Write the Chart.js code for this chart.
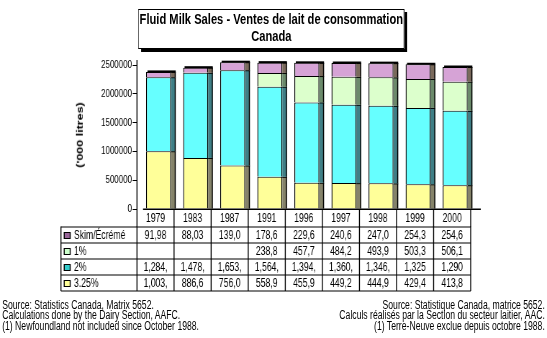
<!DOCTYPE html>
<html><head><meta charset="utf-8">
<script src="https://cdn.jsdelivr.net/npm/chart.js@4.4.1/dist/chart.umd.min.js"></script>
<style>
html,body{margin:0;padding:0;background:#fff;overflow:hidden;width:547px;height:338px}
#stage{position:absolute;left:0;top:0;width:760px;height:338px;transform:scaleX(0.7197);transform-origin:0 0;font-family:"Liberation Sans",Arial,sans-serif;color:#000}
#c{position:absolute;left:0;top:0}
#title{position:absolute;left:192px;top:9px;width:370px;height:40px;box-sizing:border-box;border:1px solid #000;border-left-width:1.4px;border-right-width:1.4px;box-shadow:4px 3px 0 #000;background:#fff;text-align:center;font-weight:bold;font-size:15.5px;line-height:16.5px;padding-top:1.4px;white-space:nowrap}
#ytitle{position:absolute;left:111px;top:134.5px;transform:translate(-50%,-50%) rotate(-90deg);font-weight:bold;font-size:12.5px;white-space:nowrap}
.notes{position:absolute;top:299.5px;font-size:12px;line-height:10.7px;white-space:nowrap}
#nl{left:3px;text-align:left}
#nr{right:3px;text-align:right}
</style></head><body>
<div id="stage">
<canvas id="c" width="760" height="338"></canvas>
<div id="title">Fluid Milk Sales - Ventes de lait de consommation<br>Canada</div>
<div id="ytitle">('000 litres)</div>
<div id="nl" class="notes">Source: Statistics Canada, Matrix 5652.<br>Calculations done by the Dairy Section, AAFC.<br>(1) Newfoundland not included since October 1988.</div>
<div id="nr" class="notes">Source: Statistique Canada, matrice 5652.<br>Calculs réalisés par la Section du secteur laitier, AAC.<br>(1) Terre-Neuve exclue depuis octobre 1988.</div>
</div>
<script>
// ---- data ('000 litres) ----
const years = ["1979","1983","1987","1991","1996","1997","1998","1999","2000"];
const skim      = [91985, 88035, 139050, 178650, 229650, 240650, 247050, 254350, 254650];
const onePct    = [null, null, null, 238850, 457750, 484250, 493950, 503350, 506150];
const twoPct    = [1284500, 1478500, 1653500, 1564500, 1394500, 1360500, 1346500, 1325500, 1290500];
const wholePct  = [1003500, 886650, 756050, 558950, 455950, 449250, 444950, 429450, 413850];
// ---- data table text as displayed (truncated cells) ----
const tableSkim  = ["91,98","88,03","139,0","178,6","229,6","240,6","247,0","254,3","254,6"];
const tableOne   = ["","","","238,8","457,7","484,2","493,9","503,3","506,1"];
const tableTwo   = ["1,284,","1,478,","1,653,","1,564,","1,394,","1,360,","1,346,","1,325","1,290"];
const tableWhole = ["1,003,","886,6","756,0","558,9","455,9","449,2","444,9","429,4","413,8"];
const seriesNames = ["Skim/Écrémé","1%","2%","3.25%"];
const yTickStep = 500000, yMax = 2500000;

const FONT = '"Liberation Sans", Arial, sans-serif';
const VW = 1.4;      // vertical hairline width (pre-squeeze)
const SIDE = 6.5;    // 3D side depth
const SHIFT = 4.2;   // bar offset to the right

const faceColors = ['#ffff99','#66ffff','#dcffcc','#d6a3d6'];
const sideColors = ['#85836a','#3f7f86','#6b8a6b','#7a6a5c'];
const swatchColors = {"Skim/Écrémé":'#996699',"1%":'#ccffcc',"2%":'#33cccc',"3.25%":'#ffff99'};

const deco = {
  id:'deco',
  beforeDatasetsDraw(chart){ chart.ctx.save(); chart.ctx.translate(SHIFT,0); },
  afterDatasetsDraw(chart){
    const ctx = chart.ctx;
    const n = chart.data.labels.length;
    for (let j=0;j<n;j++){
      let topY=null, left=0, right=0;
      chart.data.datasets.forEach((ds,i)=>{
        const v = ds.data[j];
        if (v==null) return;
        const el = chart.getDatasetMeta(i).data[j];
        const r = el.x + el.width/2;
        ctx.fillStyle = sideColors[i];
        ctx.fillRect(r, el.y, SIDE, el.base-el.y);
        ctx.fillStyle = '#000';
        ctx.fillRect(r+SIDE-VW, el.y, VW, el.base-el.y);
        ctx.fillRect(r, el.y, SIDE, 1);
        topY = el.y; left = el.x-el.width/2; right = r+SIDE;
      });
      if (topY!=null){ ctx.fillStyle='#000'; ctx.fillRect(left+2, topY-1.5, right-left-2, 2); }
    }
    ctx.restore();
  },
  afterDraw(chart){
    const ctx = chart.ctx, ca = chart.chartArea, xs = chart.scales.x;
    const n = chart.data.labels.length;
    const L = ca.left, R = ca.right, colW = (R-L)/n;
    const bounds = []; for (let j=0;j<=n;j++) bounds.push(j===n ? R : xs.getPixelForValue(j)-colW/2);
    ctx.save();
    ctx.fillStyle='#000';
    // y axis line (extended through header row)
    ctx.fillRect(L-VW/2, 60, VW, 227-60);
    // floor line
    ctx.fillRect(L+8.4, 208.5, R+14-(L+8.4), 1.5);
    // year header
    ctx.font = '12px '+FONT; ctx.textAlign='center'; ctx.textBaseline='middle';
    for (let j=0;j<n;j++){
      ctx.fillText(chart.data.labels[j], (bounds[j]+bounds[j+1])/2, 218.5);
    }
    for (let j=1;j<=n;j++) ctx.fillRect(bounds[j]-VW/2, 209, VW, 227-209);
    // table
    const tL = 84.7, rows = [tableSkim, tableOne, tableTwo, tableWhole];
    const rowTop = 227, rowH = 16;
    for (let k=0;k<=rows.length;k++) ctx.fillRect(tL, Math.round(rowTop+k*rowH)-0.5, R-tL, 1);
    const tB = Math.round(rowTop+rows.length*rowH)+0.5;
    ctx.fillRect(tL-VW/2, rowTop-0.5, VW, tB-rowTop);
    for (let j=0;j<=n;j++) ctx.fillRect(bounds[j]-VW/2, rowTop-0.5, VW, tB-rowTop);
    rows.forEach((row,k)=>{
      const cy = rowTop + k*rowH + rowH/2 + 0.5;
      const name = seriesNames[k];
      // swatch
      ctx.fillStyle = '#000'; ctx.fillRect(88.5, cy-3.5, 9.7, 7);
      ctx.fillStyle = swatchColors[name]; ctx.fillRect(88.5+VW, cy-2.5, 9.7-2*VW, 5);
      ctx.fillStyle = '#000';
      ctx.textAlign='left'; ctx.fillText(name, 102.8, cy+0.5);
      ctx.textAlign='center';
      row.forEach((t,j)=>{ if (t) ctx.fillText(t, (bounds[j]+bounds[j+1])/2, cy); });
    });
    ctx.restore();
  }
};

new Chart(document.getElementById('c'), {
  type:'bar',
  data:{ labels: years, datasets:[
    {label:'3.25%', data: wholePct, backgroundColor: faceColors[0]},
    {label:'2%', data: twoPct, backgroundColor: faceColors[1]},
    {label:'1%', data: onePct, backgroundColor: faceColors[2]},
    {label:'Skim/Écrémé', data: skim, backgroundColor: faceColors[3]}
  ]},
  options:{
    responsive:false, animation:false, devicePixelRatio:1,
    layout:{padding:{left:0,right:106,top:65,bottom:129}},
    plugins:{legend:{display:false}, tooltip:{enabled:false}, title:{display:false}},
    datasets:{bar:{categoryPercentage:1, barPercentage:0.674, borderColor:'#000',
      borderWidth:{top:1,left:VW,right:VW,bottom:0}, borderSkipped:'start', clip:false}},
    scales:{
      x:{stacked:true, display:false},
      y:{stacked:true, min:0, max:yMax,
        afterFit(s){ s.width = 190.3; },
        border:{display:false},
        grid:{drawOnChartArea:false, drawTicks:true, tickLength:6, color:'#000'},
        ticks:{stepSize:yTickStep, padding:1, color:'#000', font:{size:11, family:FONT}, callback:v=>String(v)}
      }
    }
  },
  plugins:[deco]
});
</script>
</body></html>
